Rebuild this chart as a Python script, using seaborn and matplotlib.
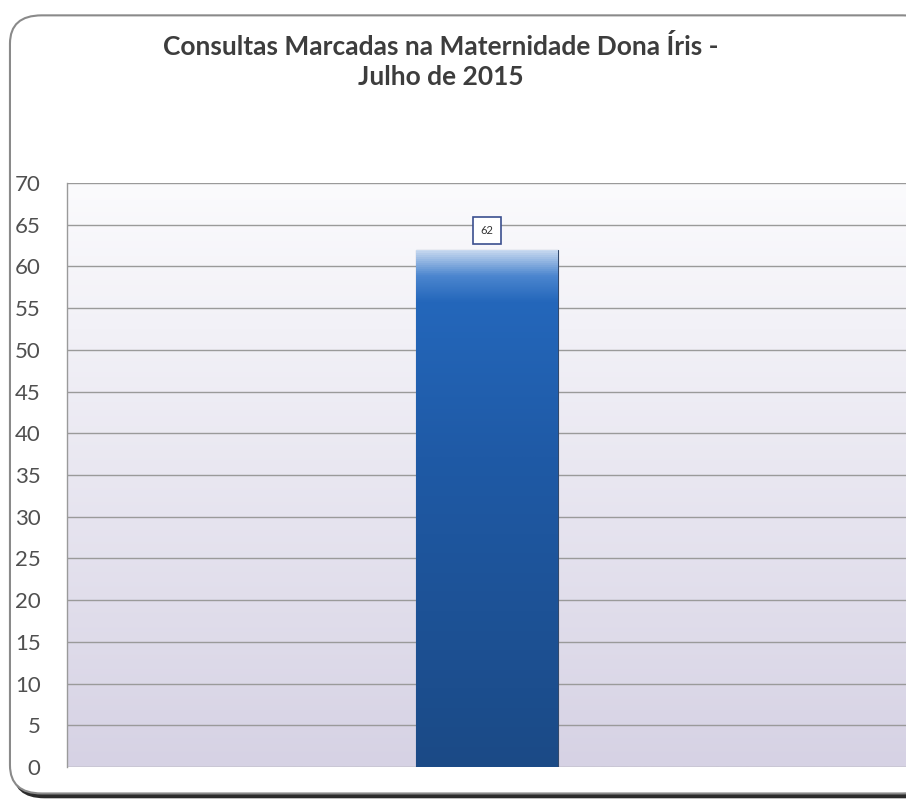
import numpy as np
import pandas as pd
import matplotlib.pyplot as plt
import matplotlib.colors as mcolors
from matplotlib.patches import FancyBboxPatch
import seaborn as sns

# dados
categorias = ["Julho de 2015"]
consultas = [62]
titulo = "Consultas Marcadas na Maternidade Dona Íris -\nJulho de 2015"

df = pd.DataFrame({"mes": categorias, "consultas": consultas})

sns.set_theme(style="white")
plt.rcParams['font.family'] = ['Lato', 'DejaVu Sans']

fig = plt.figure(figsize=(9.06, 8.08), dpi=100)

# moldura arredondada com sombra
shadow = FancyBboxPatch((0.014, 0.012), 1.02, 0.966, boxstyle="round,pad=0,rounding_size=0.035",
                        transform=fig.transFigure, facecolor="#2b2b2b", edgecolor="none", zorder=0)
frame = FancyBboxPatch((0.011, 0.018), 1.02, 0.963, boxstyle="round,pad=0,rounding_size=0.035",
                       transform=fig.transFigure, facecolor="white", edgecolor="#8a8a8a", lw=1.5, zorder=1)
fig.patches.extend([shadow, frame])

ax = fig.add_axes([0.074, 0.0507, 0.927, 0.7228])
ax.set_zorder(2)
ax.patch.set_alpha(0)

sns.barplot(data=df, x="mes", y="consultas", width=0.168, color="#1f5aa6", ax=ax, zorder=3)
ax.set_xlim(-0.5, 0.5)
ax.set_ylim(0, 70)

# fundo em degradê (branco -> lilás)
bg = mcolors.LinearSegmentedColormap.from_list("bg", ["#d6d2e4", "#e9e7f1", "#fbfbfd"])
ax.imshow(np.linspace(0, 1, 256).reshape(-1, 1), cmap=bg, aspect="auto",
          extent=(-0.5, 0.5, 0, 70), origin="lower", zorder=0)

# degradê da barra (com brilho no topo)
barcm = mcolors.LinearSegmentedColormap.from_list(
    "bar", [(0, "#1b4a86"), (0.6, "#1f5aa6"), (0.9, "#2467bb"), (0.95, "#4c86cf"), (1.0, "#c9daf0")])
for p in ax.patches:
    x0, w, h = p.get_x(), p.get_width(), p.get_height()
    grad = np.linspace(0, 1, 512).reshape(-1, 1)
    im = ax.imshow(grad, cmap=barcm, aspect="auto", extent=(x0, x0 + w, 0, h),
                   origin="lower", zorder=4)
    im.set_clip_path(p)
    p.set_edgecolor("#33496b")
    p.set_linewidth(0.8)
    ax.text(x0 + w / 2, h + 2.3, f"{int(h)}", ha="center", va="center", fontsize=8,
            color="#333333", zorder=6,
            bbox=dict(boxstyle="square,pad=0.7", fc="white", ec="#3b4f8f", lw=1.2))

ax.set_yticks(range(0, 71, 5))
ax.yaxis.grid(True, color="#9a9a9a", lw=1.0, zorder=1)
ax.set_axisbelow(True)
ax.tick_params(axis="y", direction="out", length=7, width=1, color="#9a9a9a",
               labelsize=16, labelcolor="#505050", pad=12)
ax.set_xticks([])
ax.set_xlabel("")
ax.set_ylabel("")
for s in ["top", "right", "bottom"]:
    ax.spines[s].set_visible(False)
ax.spines["left"].set_color("#9a9a9a")
ax.spines["left"].set_linewidth(1)

fig.text(0.486, 0.924, titulo, ha="center", va="center", fontsize=19, fontweight="bold",
         color="#3d3d3d", linespacing=1.3)

fig.savefig("out.png", dpi=100)
